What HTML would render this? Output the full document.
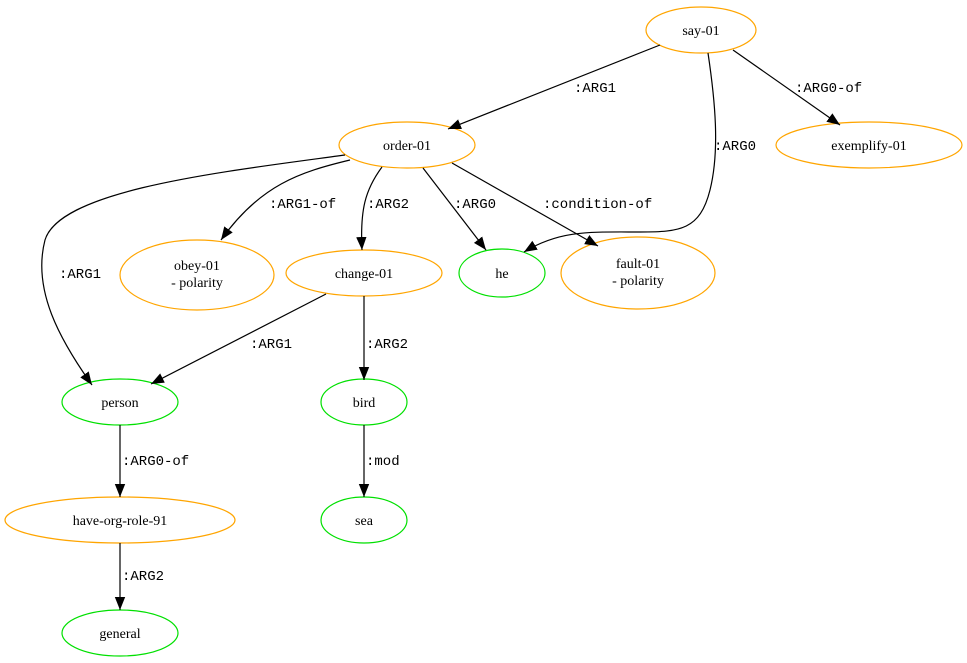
<!DOCTYPE html>
<html><head><meta charset="utf-8"><style>body{margin:0;background:#fff}svg{display:block}
.n{font-family:"Liberation Serif",serif;font-size:14px;text-anchor:middle}
.e{font-family:"Liberation Mono",monospace;font-size:14px}
</style></head><body>
<svg width="967" height="663" viewBox="0 0 967 663" xmlns="http://www.w3.org/2000/svg">
<defs><marker id="a" viewBox="0 0 10 10" refX="10" refY="5" markerWidth="13" markerHeight="13" markerUnits="userSpaceOnUse" orient="auto"><path d="M0,1L10,5L0,9z" fill="#000"/></marker></defs>
<g fill="none" stroke-width="1.2">
<g stroke="orange">
<ellipse cx="701" cy="30" rx="55" ry="23"/>
<ellipse cx="407" cy="145" rx="68" ry="23"/>
<ellipse cx="869" cy="145" rx="93" ry="23"/>
<ellipse cx="197" cy="275" rx="77" ry="35"/>
<ellipse cx="364" cy="273" rx="78" ry="23"/>
<ellipse cx="638" cy="273" rx="77" ry="36"/>
<ellipse cx="120" cy="520" rx="115" ry="23"/>
</g>
<g stroke="#00e000">
<ellipse cx="502" cy="273" rx="43" ry="24"/>
<ellipse cx="120" cy="402" rx="58" ry="23"/>
<ellipse cx="364" cy="402" rx="43" ry="23"/>
<ellipse cx="364" cy="520" rx="43" ry="23"/>
<ellipse cx="120" cy="633" rx="58" ry="23"/>
</g>
<g stroke="#000" marker-end="url(#a)">
<path d="M660,45L448,129"/>
<path d="M733,50L840,125"/>
<path d="M708,53C715,100 720,150 710,190C700,230 680,232 640,232C590,232 560,230 524,252"/>
<path d="M345,155C220,172 60,190 45,240C32,290 60,340 92,385"/>
<path d="M350,160C300,172 260,185 221,240"/>
<path d="M382,167C365,190 360,210 362,250"/>
<path d="M423,168L486,250"/>
<path d="M452,163L598,246"/>
<path d="M326,294L151,384"/>
<path d="M364,296L364,380"/>
<path d="M120,425L120,497"/>
<path d="M364,425L364,497"/>
<path d="M120,543L120,610"/>
</g>
</g>
<g class="n">
<text x="701" y="35">say-01</text>
<text x="407" y="150">order-01</text>
<text x="869" y="150">exemplify-01</text>
<text x="197" y="270">obey-01</text><text x="197" y="287">- polarity</text>
<text x="364" y="278">change-01</text>
<text x="502" y="278">he</text>
<text x="638" y="268">fault-01</text><text x="638" y="285">- polarity</text>
<text x="120" y="407">person</text>
<text x="364" y="407">bird</text>
<text x="120" y="525">have-org-role-91</text>
<text x="364" y="525">sea</text>
<text x="120" y="638">general</text>
</g>
<g class="e">
<text x="574" y="92">:ARG1</text>
<text x="795" y="92">:ARG0-of</text>
<text x="714" y="150">:ARG0</text>
<text x="59" y="278">:ARG1</text>
<text x="269" y="208">:ARG1-of</text>
<text x="367" y="208">:ARG2</text>
<text x="454" y="208">:ARG0</text>
<text x="543" y="208">:condition-of</text>
<text x="250" y="348">:ARG1</text>
<text x="366" y="348">:ARG2</text>
<text x="122" y="465">:ARG0-of</text>
<text x="366" y="465">:mod</text>
<text x="122" y="580">:ARG2</text>
</g>
</svg>
</body></html>
